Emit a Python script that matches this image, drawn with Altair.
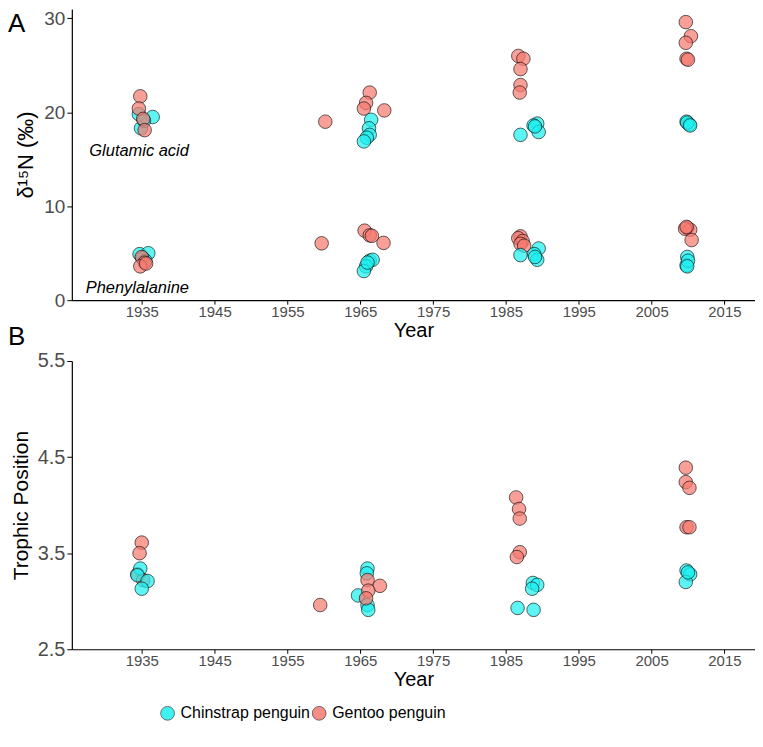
import altair as alt
import pandas as pd

FONT = "Liberation Sans"
SPECIES = ["Chinstrap penguin", "Gentoo penguin"]
COLORS = ["#1EF0F0", "#F57A70"]

# ---------------- Panel A: d15N of amino acids ----------------
a_year = [
    # 1935 glutamic acid
    1934.6, 1936.5, 1934.9, 1935.3, 1934.8, 1934.6, 1935.2, 1935.4,
    # 1935 phenylalanine
    1934.7, 1935.9, 1935.1, 1935.5, 1935.0, 1935.4, 1934.8, 1935.6,
    # 1965 glutamic acid
    1966.3, 1965.8, 1965.5, 1968.3, 1960.2, 1966.5, 1966.2, 1966.3, 1965.9, 1965.5,
    # 1965 phenylalanine
    1965.6, 1966.3, 1966.6, 1968.2, 1959.7, 1966.3, 1966.7, 1965.8, 1965.5, 1966.0,
    # 1985 glutamic acid
    1986.7, 1987.4, 1987.0, 1987.0, 1986.9, 1989.3, 1988.8, 1989.5, 1987.0, 1989.0,
    # 1985 phenylalanine
    1987.0, 1986.7, 1987.3, 1987.0, 1987.5, 1987.0, 1989.5, 1988.9, 1989.3, 1989.0,
    # 2010 glutamic acid
    2009.7, 2010.4, 2009.7, 2009.8, 2010.0, 2009.8, 2010.2, 2009.9, 2010.3,
    # 2010 phenylalanine
    2009.9, 2010.3, 2009.6, 2010.5, 2009.8, 2009.9, 2009.8, 2010.0, 2009.9,
]
a_species = (
    ["Chinstrap penguin"] * 4 + ["Gentoo penguin"] * 4
    + ["Chinstrap penguin"] * 4 + ["Gentoo penguin"] * 4
    + ["Gentoo penguin"] * 5 + ["Chinstrap penguin"] * 5
    + ["Gentoo penguin"] * 5 + ["Chinstrap penguin"] * 5
    + ["Gentoo penguin"] * 5 + ["Chinstrap penguin"] * 5
    + ["Gentoo penguin"] * 5 + ["Chinstrap penguin"] * 5
    + ["Gentoo penguin"] * 5 + ["Chinstrap penguin"] * 4
    + ["Gentoo penguin"] * 5 + ["Chinstrap penguin"] * 4
)
a_d15n = [
    19.8, 19.5, 18.3, 19.1, 21.7, 20.4, 19.3, 18.1,
    4.9, 5.0, 4.5, 4.2, 4.6, 4.0, 3.6, 3.9,
    22.1, 21.0, 20.4, 20.2, 19.0, 19.2, 18.3, 17.6, 17.3, 16.9,
    7.4, 6.9, 6.85, 6.1, 6.05, 4.2, 4.3, 3.6, 3.1, 4.0,
    26.0, 25.7, 24.6, 22.9, 22.1, 18.8, 18.6, 17.9, 17.6, 18.5,
    6.8, 6.6, 6.3, 6.0, 5.8, 4.8, 5.5, 4.9, 4.3, 4.6,
    29.6, 28.1, 27.4, 25.7, 25.6, 19.0, 18.7, 18.9, 18.6,
    7.7, 7.5, 7.6, 6.4, 7.8, 4.6, 3.7, 4.2, 3.6,
]

# annotation labels for panel A
ann_text = ["Glutamic acid", "Phenylalanine"]
ann_year = [1927.8, 1927.3]
ann_value = [15.85, 1.3]

# ---------------- Panel B: trophic position ----------------
b_year = [
    1935.0, 1934.7, 1934.4, 1935.2, 1934.8, 1934.4, 1935.8, 1935.0,
    1966.0, 1965.9, 1964.7, 1966.0, 1966.1, 1966.0, 1967.7, 1966.1, 1965.8, 1959.5,
    1986.4, 1986.8, 1986.9, 1986.9, 1986.5, 1988.7, 1989.3, 1988.6, 1986.6, 1988.8,
    2009.7, 2009.7, 2010.2, 2009.8, 2010.2, 2009.8, 2010.3, 2009.7, 2010.0,
]
b_species = (
    ["Gentoo penguin"] * 4 + ["Chinstrap penguin"] * 4
    + ["Chinstrap penguin"] * 5 + ["Gentoo penguin"] * 5
    + ["Gentoo penguin"] * 5 + ["Chinstrap penguin"] * 5
    + ["Gentoo penguin"] * 5 + ["Chinstrap penguin"] * 4
)
b_tp = [
    3.61, 3.50, 3.28, 3.22, 3.34, 3.27, 3.21, 3.13,
    3.34, 3.29, 3.06, 2.96, 2.91, 3.22, 3.16, 3.11, 3.03, 2.96,
    4.08, 3.96, 3.86, 3.51, 3.46, 3.19, 3.17, 3.13, 2.93, 2.91,
    4.39, 4.24, 4.18, 3.77, 3.77, 3.32, 3.28, 3.20, 3.30,
]

x_ticks = [1935, 1945, 1955, 1965, 1975, 1985, 1995, 2005, 2015]
a_ticks = [0, 10, 20, 30]
b_ticks = [2.5, 3.5, 4.5, 5.5]

df_a = pd.DataFrame({"year": a_year, "species": a_species, "d15n": a_d15n})
df_b = pd.DataFrame({"year": b_year, "species": b_species, "tp": b_tp})
df_ann = pd.DataFrame({"text": ann_text, "year": ann_year, "value": ann_value})

W = 685
xscale = alt.Scale(domain=[1925.4, 2019.2], nice=False, zero=False)
xaxis = alt.Axis(values=x_ticks, format="d", title="Year", labelFontSize=15,
                 titleFontSize=20, tickSize=4, labelPadding=0, titlePadding=1)
color = alt.Color(
    "species:N",
    scale=alt.Scale(domain=SPECIES, range=COLORS),
    legend=alt.Legend(
        title=None, orient="none", direction="horizontal",
        legendX=88, legendY=698, labelFontSize=16, labelColor="black",
        symbolSize=190, symbolType="circle", symbolStrokeColor="#333333",
        symbolStrokeWidth=0.8, symbolOpacity=0.85, columnPadding=0,
        labelOffset=5,
    ),
)

pts = dict(size=185, stroke="black", strokeWidth=0.8, fillOpacity=0.72, strokeOpacity=0.75)

pa = alt.Chart(df_a).mark_circle(**pts).encode(
    x=alt.X("year:Q", scale=xscale, axis=xaxis),
    y=alt.Y("d15n:Q", scale=alt.Scale(domain=[0, 31], nice=False),
            axis=alt.Axis(values=a_ticks, title="δ¹⁵N (‰)", labelFontSize=19,
                          titleFontSize=22, tickSize=5, titlePadding=6)),
    color=color,
)
ann = alt.Chart(df_ann).mark_text(align="left", baseline="middle", fontStyle="italic",
                                  fontSize=16.5, font=FONT, color="black").encode(
    x=alt.X("year:Q", scale=xscale), y=alt.Y("value:Q"), text="text:N")
lab_a = alt.Chart(pd.DataFrame({"t": ["A"]})).mark_text(
    fontSize=26, font=FONT, color="black", align="left", baseline="middle").encode(
    text="t:N", x=alt.value(-64), y=alt.value(15))
panel_a = alt.layer(pa, ann, lab_a).properties(width=W, height=292)

pb = alt.Chart(df_b).mark_circle(**pts).encode(
    x=alt.X("year:Q", scale=xscale, axis=xaxis),
    y=alt.Y("tp:Q", scale=alt.Scale(domain=[2.5, 5.5], nice=False, zero=False),
            axis=alt.Axis(values=b_ticks, format=".1f", title="Trophic Position",
                          labelFontSize=20, titleFontSize=21, tickSize=5, titlePadding=6)),
    color=color,
)
lab_b = alt.Chart(pd.DataFrame({"t": ["B"]})).mark_text(
    fontSize=26, font=FONT, color="black", align="left", baseline="middle").encode(
    text="t:N", x=alt.value(-64), y=alt.value(-24))
panel_b = alt.layer(pb, lab_b).properties(width=W, height=289)

chart = alt.vconcat(panel_a, panel_b, spacing=-16).properties(
    padding={"left": 0, "top": 0, "right": 0, "bottom": 0}
).configure_view(stroke=None).configure_axis(
    grid=False, domainColor="black", domainWidth=1.2, tickColor="black",
    labelColor="#4D4D4D", titleColor="black", labelFont=FONT, titleFont=FONT,
    titleFontWeight="normal",
).configure_legend(labelFont=FONT)

chart.save("out.html", embed_options={"renderer": "svg", "actions": False})
